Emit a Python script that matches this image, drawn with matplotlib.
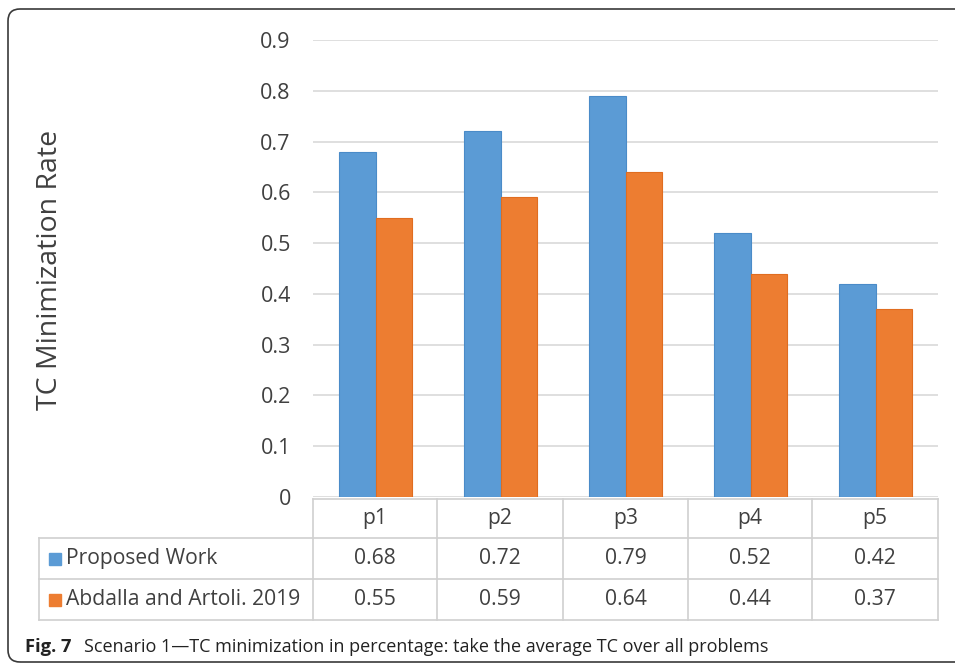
import matplotlib.pyplot as plt
from matplotlib.patches import FancyBboxPatch, Rectangle
from matplotlib.transforms import IdentityTransform

plt.rcParams['font.family'] = ['Open Sans', 'DejaVu Sans']

# data
problems = ["p1", "p2", "p3", "p4", "p5"]
proposed = [0.68, 0.72, 0.79, 0.52, 0.42]
abdalla = [0.55, 0.59, 0.64, 0.44, 0.37]
series_names = ["Proposed Work", "Abdalla and Artoli. 2019"]
yticks = [0, 0.1, 0.2, 0.3, 0.4, 0.5, 0.6, 0.7, 0.8, 0.9]

blue = "#5B9BD5"
orange = "#ED7D31"
txt = "#404040"
grid = "#D9D9D9"

W, H = 955, 664
fig = plt.figure(figsize=(W / 100, H / 100), dpi=100)

def fx(px):
    return px / W

def fy(py):
    return 1 - py / H

# outer rounded frame (pixel coords, runs off the right edge)
frame = FancyBboxPatch((8, H - 662), 1100, 662 - 9,
                       boxstyle="round,pad=0,rounding_size=12",
                       transform=IdentityTransform(), fill=False,
                       edgecolor="#3a3a3a", linewidth=1.2)
fig.patches.append(frame)

# plot area
x0, x1 = 313, 938
ytop, ybot = 40, 497
ax = fig.add_axes([fx(x0), fy(ybot), fx(x1) - fx(x0), fy(ytop) - fy(ybot)])
n = len(problems)
ax.set_xlim(-0.5, n - 0.5)
ax.set_ylim(0, 0.9)
w = 0.29
xs = list(range(n))
ax.bar([x - w / 2 for x in xs], proposed, width=w, color=blue,
       edgecolor="#4a8bc8", linewidth=0.8, zorder=3)
ax.bar([x + w / 2 for x in xs], abdalla, width=w, color=orange,
       edgecolor="#e06d20", linewidth=0.8, zorder=3)
ax.set_yticks(yticks)
ax.set_yticklabels([f"{t:g}" for t in yticks], fontsize=15.5, color=txt)
ax.set_xticks([])
ax.yaxis.grid(True, color=grid, linewidth=1.2, zorder=0)
ax.tick_params(axis="y", length=0, pad=16)
for s in ax.spines.values():
    s.set_visible(False)

fig.text(fx(50), fy(270), "TC Minimization Rate", rotation=90,
         ha="center", va="center", fontsize=20.5, color=txt)

# data table
col_edges = [313, 437, 563, 688, 812, 938]
row_edges = [499, 538, 579, 620]
left = 39
lc = "#D0D0D0"
lw = 1.2

def hline(y, xa, xb):
    fig.add_artist(plt.Line2D([fx(xa), fx(xb)], [fy(y), fy(y)],
                              transform=fig.transFigure, color=lc, lw=lw))

def vline(x, ya, yb):
    fig.add_artist(plt.Line2D([fx(x), fx(x)], [fy(ya), fy(yb)],
                              transform=fig.transFigure, color=lc, lw=lw))

hline(row_edges[0], col_edges[0], col_edges[-1])
for y in row_edges[1:]:
    hline(y, left, col_edges[-1])
for x in col_edges:
    vline(x, row_edges[0], row_edges[-1])
vline(left, row_edges[1], row_edges[-1])

fs = 15.2
for i, p in enumerate(problems):
    cx = (col_edges[i] + col_edges[i + 1]) / 2
    fig.text(fx(cx), fy((row_edges[0] + row_edges[1]) / 2), p,
             ha="center", va="center", fontsize=fs, color=txt)
    fig.text(fx(cx), fy((row_edges[1] + row_edges[2]) / 2), f"{proposed[i]:.2f}",
             ha="center", va="center", fontsize=fs, color=txt)
    fig.text(fx(cx), fy((row_edges[2] + row_edges[3]) / 2), f"{abdalla[i]:.2f}",
             ha="center", va="center", fontsize=fs, color=txt)

for r, (name, col) in enumerate(zip(series_names, [blue, orange])):
    cy = (row_edges[r + 1] + row_edges[r + 2]) / 2
    fig.add_artist(Rectangle((fx(49), fy(cy + 6)), fx(12), fy(0) - fy(12),
                             transform=fig.transFigure, color=col))
    fig.text(fx(66), fy(cy), name, ha="left", va="center",
             fontsize=fs, color=txt)

# caption
fig.text(fx(25), fy(647), "Fig. 7", ha="left", va="center",
         fontsize=13.2, fontweight="bold", color="#222222")
fig.text(fx(84), fy(647),
         "Scenario 1\u2014TC minimization in percentage: take the average TC over all problems",
         ha="left", va="center", fontsize=13.0, color="#222222")

fig.savefig("out.png", dpi=100)
